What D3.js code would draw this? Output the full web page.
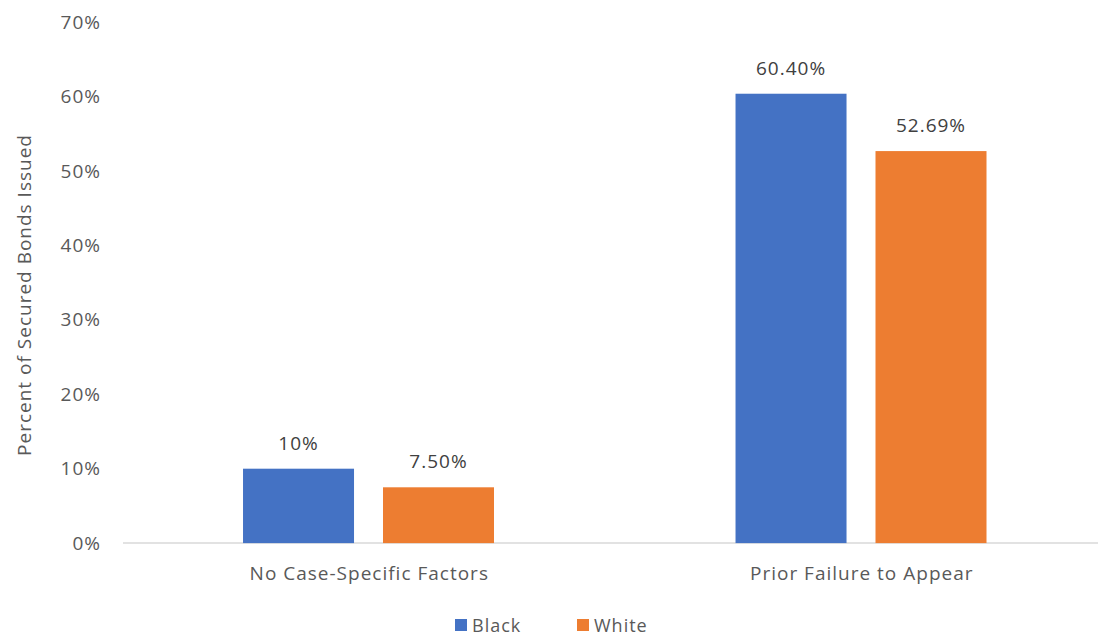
<!DOCTYPE html>
<html lang="en">
<head>
<meta charset="UTF-8">
<title>Secured Bonds</title>
<script src="https://d3js.org/d3.v7.min.js"></script>
<style>
  body { margin: 0; background: #fff; }
  svg { font-family: "Open Sans", "Liberation Sans", sans-serif; }
  svg text { letter-spacing: 1px; }
</style>
</head>
<body>
<svg id="chart" width="1098" height="637"></svg>
<script>
// data
var categories = ["No Case-Specific Factors", "Prior Failure to Appear"];
var seriesNames = ["Black", "White"];
var blackValues = [10, 60.40];
var whiteValues = [7.50, 52.69];
var valueLabels = [["10%", "60.40%"], ["7.50%", "52.69%"]];
var yTicks = [0, 10, 20, 30, 40, 50, 60, 70];
var colors = ["#4472C4", "#ED7D31"];

var svg = d3.select("#chart");
var plotLeft = 123, plotRight = 1108, plotTop = 22.3, plotBottom = 543.1;

var x = d3.scaleBand().domain(categories).range([plotLeft, plotRight]);
var x1 = d3.scaleBand().domain(seriesNames)
  .range([x.bandwidth() * 0.2437, x.bandwidth() * 0.7533])
  .paddingInner(0.207);
var y = d3.scaleLinear().domain([0, 70]).range([plotBottom, plotTop]);

// y axis labels
svg.append("g")
  .attr("transform", "translate(101,0)")
  .call(d3.axisLeft(y).tickValues(yTicks).tickSize(0).tickPadding(0).tickFormat(d => d + "%"))
  .call(g => g.select(".domain").remove())
  .call(g => g.selectAll("text").attr("fill", "#595959").attr("font-size", "19px")
     .attr("font-family", "Open Sans, sans-serif"));

// baseline
svg.append("line")
  .attr("x1", plotLeft).attr("x2", 1098)
  .attr("y1", y(0)).attr("y2", y(0))
  .attr("stroke", "#d9d9d9").attr("stroke-width", 1.5);

var rows = [blackValues, whiteValues];
seriesNames.forEach(function(s, si) {
  var g = svg.append("g");
  g.selectAll("rect")
    .data(categories)
    .enter().append("rect")
    .attr("x", d => x(d) + x1(s))
    .attr("width", x1.bandwidth())
    .attr("y", (d, i) => y(rows[si][i]))
    .attr("height", (d, i) => y(0) - y(rows[si][i]))
    .attr("fill", colors[si]);
  g.selectAll("text")
    .data(categories)
    .enter().append("text")
    .attr("x", d => x(d) + x1(s) + x1.bandwidth() / 2)
    .attr("y", (d, i) => y(rows[si][i]) - 19)
    .attr("text-anchor", "middle")
    .attr("font-size", "19px")
    .attr("fill", "#404040")
    .text((d, i) => valueLabels[si][i]);
});

// category labels
svg.append("g")
  .attr("transform", "translate(0," + y(0) + ")")
  .call(d3.axisBottom(x).tickSize(0).tickPadding(23))
  .call(g => g.select(".domain").remove())
  .call(g => g.selectAll("text").attr("fill", "#595959").attr("font-size", "19px")
     .attr("font-family", "Open Sans, sans-serif"));

// y title
svg.append("text")
  .attr("transform", "translate(31,295) rotate(-90)")
  .attr("text-anchor", "middle")
  .attr("font-size", "19px")
  .attr("fill", "#595959")
  .text("Percent of Secured Bonds Issued");

// legend
var legend = svg.append("g").attr("transform", "translate(455,619)");
var lx = [0, 122];
seriesNames.forEach(function(s, i) {
  legend.append("rect").attr("x", lx[i]).attr("y", 0).attr("width", 12).attr("height", 12).attr("fill", colors[i]);
  legend.append("text").attr("x", lx[i] + 17).attr("y", 12.5)
    .attr("font-size", "18px").attr("fill", "#595959").text(s);
});
</script>
</body>
</html>
